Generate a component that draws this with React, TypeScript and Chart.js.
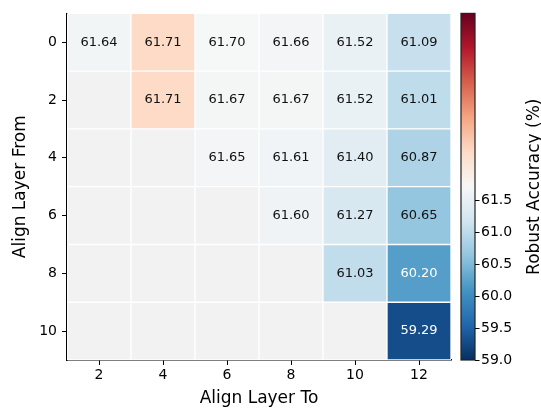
import React, { useEffect, useRef } from "react";
import { Chart, registerables } from "chart.js";

Chart.register(...registerables);

// ---- data ----
const alignTo = [2, 4, 6, 8, 10, 12];
const alignFrom = [0, 2, 4, 6, 8, 10];
const row0 = [61.64, 61.71, 61.7, 61.66, 61.52, 61.09];
const row2 = [null, 61.71, 61.67, 61.67, 61.52, 61.01];
const row4 = [null, null, 61.65, 61.61, 61.4, 60.87];
const row6 = [null, null, null, 61.6, 61.27, 60.65];
const row8 = [null, null, null, null, 61.03, 60.2];
const row10 = [null, null, null, null, null, 59.29];
const rows = [row0, row2, row4, row6, row8, row10];
const cbTicks = [59.0, 59.5, 60.0, 60.5, 61.0, 61.5];
const vmin = 59.0;
const vmax = 64.42;

// RdBu_r stops
const rdbuR = [
  "#053061", "#2166ac", "#4393c3", "#92c5de", "#d1e5f0", "#f7f7f7",
  "#fddbc7", "#f4a582", "#d6604d", "#b2182b", "#67001f",
];
const maskColor = "#f2f2f2";
const bestColor = "#fddbc7";

function hexToRgb(h: string) {
  const n = parseInt(h.slice(1), 16);
  return [(n >> 16) & 255, (n >> 8) & 255, n & 255];
}
function colorFor(v: number) {
  let t = (v - vmin) / (vmax - vmin);
  t = Math.max(0, Math.min(1, t));
  const p = t * 10;
  const i = Math.min(9, Math.floor(p));
  const f = p - i;
  const a = hexToRgb(rdbuR[i]);
  const b = hexToRgb(rdbuR[i + 1]);
  return a.map((x, k) => Math.round(x + (b[k] - x) * f));
}
function lum(c: number[]) {
  const l = c.map((x) => {
    const s = x / 255;
    return s <= 0.03928 ? s / 12.92 : Math.pow((s + 0.055) / 1.055, 2.4);
  });
  return 0.2126 * l[0] + 0.7152 * l[1] + 0.0722 * l[2];
}

const allVals = rows.flat().filter((v) => v != null) as number[];
const best = Math.max(...allVals);

type Cell = { x: number; y: [number, number]; v: number | null };
const cells: Cell[] = [];
rows.forEach((r, ri) => {
  r.forEach((v, ci) => {
    cells.push({ x: alignTo[ci], y: [alignFrom[ri] - 1, alignFrom[ri] + 1], v });
  });
});
const cellColors = cells.map((c) => {
  if (c.v == null) return maskColor;
  if (c.v === best) return bestColor;
  const rgb = colorFor(c.v);
  return `rgb(${rgb[0]},${rgb[1]},${rgb[2]})`;
});
const textColors = cells.map((c) => {
  if (c.v == null) return "#000";
  const rgb = c.v === best ? hexToRgb(bestColor) : colorFor(c.v);
  return lum(rgb) > 0.408 ? "#111" : "#fff";
});

const FONT = "'DejaVu Sans', sans-serif";

const extras = {
  id: "heatExtras",
  afterDatasetsDraw(chart: any) {
    const ctx = chart.ctx;
    const meta = chart.getDatasetMeta(0);
    ctx.save();
    ctx.font = `13px ${FONT}`;
    ctx.textAlign = "center";
    ctx.textBaseline = "middle";
    meta.data.forEach((bar: any, i: number) => {
      const c = cells[i];
      if (c.v == null) return;
      const p = bar.getProps(["x", "y", "base"], true);
      ctx.fillStyle = textColors[i];
      ctx.fillText(c.v.toFixed(2), p.x, (p.y + p.base) / 2);
    });
    ctx.restore();
  },
  afterDraw(chart: any) {
    const ctx = chart.ctx;
    const s = chart.scales.cb;
    const x0 = s.left + 10;
    const w = 14;
    const yTop = s.getPixelForValue(vmax);
    const yBot = s.getPixelForValue(vmin);
    ctx.save();
    const g = ctx.createLinearGradient(0, yBot, 0, yTop);
    rdbuR.forEach((c, i) => g.addColorStop(i / 10, c));
    ctx.fillStyle = g;
    ctx.fillRect(x0, yTop, w, yBot - yTop);
    ctx.strokeStyle = "#222";
    ctx.lineWidth = 1.2;
    ctx.strokeRect(x0, yTop, w, yBot - yTop);
    ctx.strokeStyle = "#000";
    ctx.lineWidth = 1;
    cbTicks.forEach((t) => {
      const y = Math.round(s.getPixelForValue(t)) + 0.5;
      ctx.beginPath();
      ctx.moveTo(x0 + w, y);
      ctx.lineTo(x0 + w + 4.5, y);
      ctx.stroke();
    });
    ctx.translate(539, (yTop + yBot) / 2);
    ctx.rotate(-Math.PI / 2);
    ctx.font = `17px ${FONT}`;
    ctx.fillStyle = "#000";
    ctx.textAlign = "center";
    ctx.textBaseline = "alphabetic";
    ctx.fillText("Robust Accuracy (%)", 0, 0);
    ctx.restore();
  },
};

export default function App() {
  const ref = useRef<HTMLCanvasElement>(null);
  useEffect(() => {
    if (!ref.current) return;
    Chart.defaults.font.family = FONT;
    Chart.defaults.color = "#000";
    const chart = new Chart(ref.current, {
      type: "bar",
      data: {
        datasets: [
          {
            data: cells as any,
            backgroundColor: cellColors,
            borderColor: "#ffffff",
            borderWidth: 1,
            borderSkipped: false,
            barPercentage: 1,
            categoryPercentage: 1,
          },
        ],
      },
      options: {
        animation: false,
        responsive: false,
        events: [],
        layout: { padding: { top: 12, left: 0, right: 0, bottom: 0 } },
        plugins: { legend: { display: false }, tooltip: { enabled: false } },
        scales: {
          x: {
            type: "linear",
            min: 1,
            max: 13,
            offset: false,
            afterBuildTicks: (sc: any) => {
              sc.ticks = alignTo.map((v) => ({ value: v }));
            },
            afterFit: (sc: any) => {
              sc.height = 50;
            },
            grid: {
              offset: false,
              drawOnChartArea: false,
              drawTicks: true,
              tickLength: 5,
              tickWidth: 1,
              tickColor: "#000",
            },
            border: { display: true, color: "#000", width: 1.5 },
            ticks: {
              font: { size: 14 },
              color: "#000",
              padding: 2,
              maxRotation: 0,
              autoSkip: false,
              callback: (v: any) => String(v),
            },
            title: {
              display: true,
              text: "Align Layer To",
              font: { size: 17 },
              color: "#000",
              padding: { top: 0, bottom: 1 },
            },
          },
          y: {
            type: "linear",
            min: -1,
            max: 11,
            reverse: true,
            afterBuildTicks: (sc: any) => {
              sc.ticks = alignFrom.map((v) => ({ value: v }));
            },
            afterFit: (sc: any) => {
              sc.width = 67;
            },
            grid: {
              drawOnChartArea: false,
              drawTicks: true,
              tickLength: 5,
              tickWidth: 1,
              tickColor: "#000",
            },
            border: { display: true, color: "#000", width: 1.5 },
            ticks: {
              font: { size: 14 },
              color: "#000",
              padding: 5,
              autoSkip: false,
              callback: (v: any) => String(v),
            },
            title: {
              display: true,
              text: "Align Layer From",
              font: { size: 17 },
              color: "#000",
              padding: { top: 10, bottom: 0 },
            },
          },
          cb: {
            type: "linear",
            position: "right",
            min: vmin,
            max: vmax,
            afterBuildTicks: (sc: any) => {
              sc.ticks = cbTicks.map((v) => ({ value: v }));
            },
            afterFit: (sc: any) => {
              sc.width = 90;
            },
            grid: { display: false, drawOnChartArea: false, drawTicks: true, tickLength: 26 },
            border: { display: false },
            ticks: {
              font: { size: 14 },
              color: "#000",
              padding: 4,
              autoSkip: false,
              callback: (v: any) => Number(v).toFixed(1),
            },
          },
        },
      } as any,
      plugins: [extras],
    });
    return () => chart.destroy();
  }, []);
  return (
    <div style={{ position: "fixed", left: 0, top: 0, width: 541, height: 410, background: "#fff" }}>
      <canvas ref={ref} width={541} height={410} />
    </div>
  );
}
